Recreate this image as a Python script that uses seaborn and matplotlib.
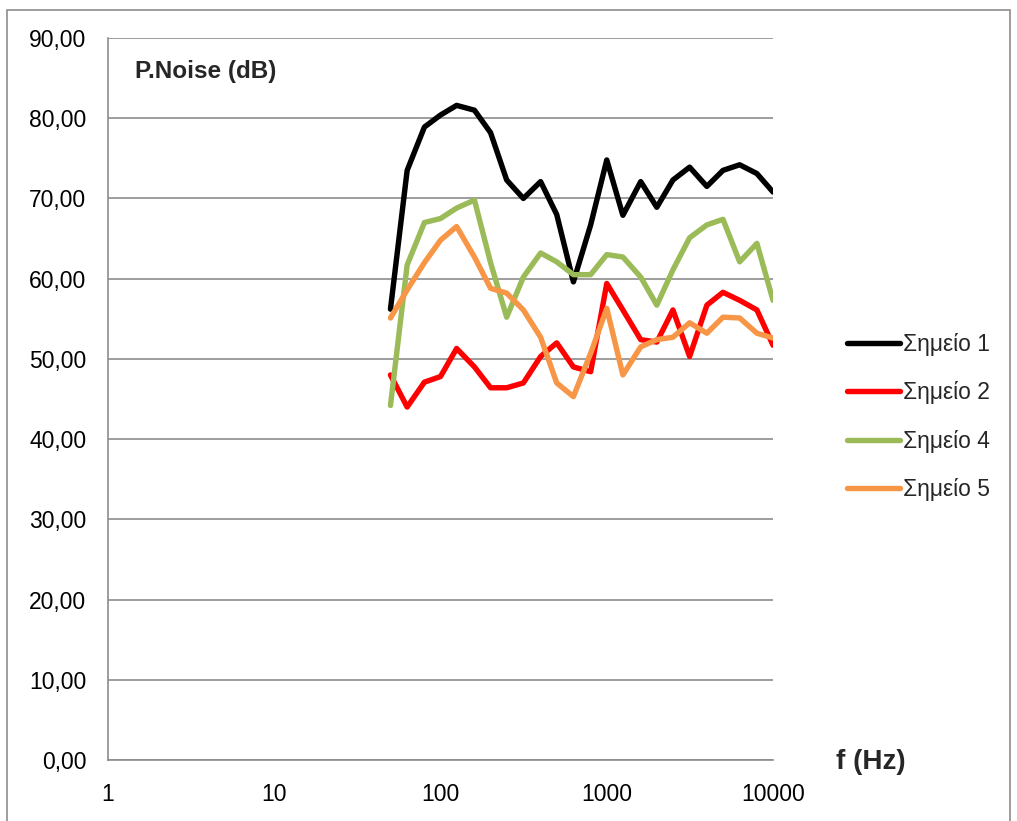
import numpy as np
import pandas as pd
import matplotlib
matplotlib.use("Agg")
import matplotlib.pyplot as plt
from matplotlib.patches import Rectangle
import seaborn as sns

freqs = [50, 63, 80, 100, 125, 160, 200, 250, 315, 400, 500, 630, 800,
         1000, 1250, 1600, 2000, 2500, 3150, 4000, 5000, 6300, 8000, 10000]

point1 = [56.2, 73.5, 78.9, 80.4, 81.6, 81.0, 78.2, 72.3, 70.0, 72.1, 68.0, 59.6, 66.7,
          74.8, 67.9, 72.1, 68.9, 72.3, 73.9, 71.5, 73.5, 74.2, 73.1, 70.8]
point2 = [48.0, 44.0, 47.1, 47.8, 51.3, 49.0, 46.4, 46.4, 47.0, 50.3, 52.0, 49.0, 48.4,
          59.4, 56.1, 52.4, 52.1, 56.1, 50.3, 56.7, 58.3, 57.3, 56.1, 51.7]
point4 = [44.2, 61.7, 67.0, 67.5, 68.8, 69.8, 62.0, 55.2, 60.2, 63.2, 62.1, 60.5, 60.5,
          63.0, 62.7, 60.2, 56.7, 61.1, 65.1, 66.7, 67.4, 62.1, 64.4, 57.3]
point5 = [55.1, 58.6, 62.0, 64.8, 66.5, 62.7, 58.8, 58.2, 56.1, 52.7, 47.0, 45.3, 50.7,
          56.3, 48.0, 51.5, 52.4, 52.7, 54.5, 53.2, 55.2, 55.1, 53.2, 52.6]

series_names = ["Σημείο 1", "Σημείο 2", "Σημείο 4", "Σημείο 5"]
series_values = [point1, point2, point4, point5]
colors = ["#000000", "#FF0000", "#9BBB59", "#F79646"]

y_ticks = [0, 10, 20, 30, 40, 50, 60, 70, 80, 90]
y_tick_labels = ["0,00", "10,00", "20,00", "30,00", "40,00", "50,00",
                 "60,00", "70,00", "80,00", "90,00"]
x_ticks = [1, 10, 100, 1000, 10000]
x_tick_labels = ["1", "10", "100", "1000", "10000"]

rows = []
for name, vals in zip(series_names, series_values):
    for f, v in zip(freqs, vals):
        rows.append({"f": f, "value": v, "series": name})
df = pd.DataFrame(rows)

sns.set_style("white")
plt.rcParams["font.family"] = ["Liberation Sans", "DejaVu Sans"]

fig = plt.figure(figsize=(10.17, 8.21), dpi=100)
ax = fig.add_axes([0.1062, 0.0743, 0.6539, 0.8794])

sns.lineplot(data=df, x="f", y="value", hue="series", palette=colors,
             hue_order=series_names, linewidth=3.9, ax=ax, legend=True,
             solid_joinstyle="round", solid_capstyle="round")

ax.set_xscale("log")
ax.set_xlim(1, 10000)
ax.set_ylim(0, 90)
ax.set_xticks(x_ticks)
ax.set_xticklabels(x_tick_labels)
ax.minorticks_off()
ax.set_yticks(y_ticks)
ax.set_yticklabels(y_tick_labels)
ax.set_xlabel("")
ax.set_ylabel("")

ax.yaxis.grid(True, color="#8c8c8c", linewidth=1.2)
ax.xaxis.grid(False)
ax.set_axisbelow(True)
for s in ["top", "right"]:
    ax.spines[s].set_visible(False)
for s in ["left", "bottom"]:
    ax.spines[s].set_color("#8c8c8c")
    ax.spines[s].set_linewidth(1.2)

ax.tick_params(axis="both", which="major", length=3.6, width=1.2, color="#8c8c8c",
               labelsize=16.5, labelcolor="black", direction="out")
ax.tick_params(axis="x", pad=13)
ax.tick_params(axis="y", pad=12)

ax.text(0.041, 0.953, "P.Noise (dB)", transform=ax.transAxes, fontsize=17.5,
        fontweight="bold", ha="left", va="center")
fig.text(0.856, 0.072, "f (Hz)", fontsize=20, fontweight="bold",
         ha="center", va="center")

handles, labels = ax.get_legend_handles_labels()
ax.legend(handles, labels, loc="center left", bbox_to_anchor=(0.824, 0.492),
          bbox_transform=fig.transFigure, frameon=False, fontsize=16.5,
          handlelength=2.3, handletextpad=0.13, labelspacing=1.1,
          borderaxespad=0)

fig.patches.append(Rectangle((7 / 1017, -0.02), 1003 / 1017, 1.02 - 10 / 821,
                             transform=fig.transFigure, fill=False,
                             edgecolor="#8c8c8c", linewidth=1.2))

fig.savefig("out.png", dpi=100)
